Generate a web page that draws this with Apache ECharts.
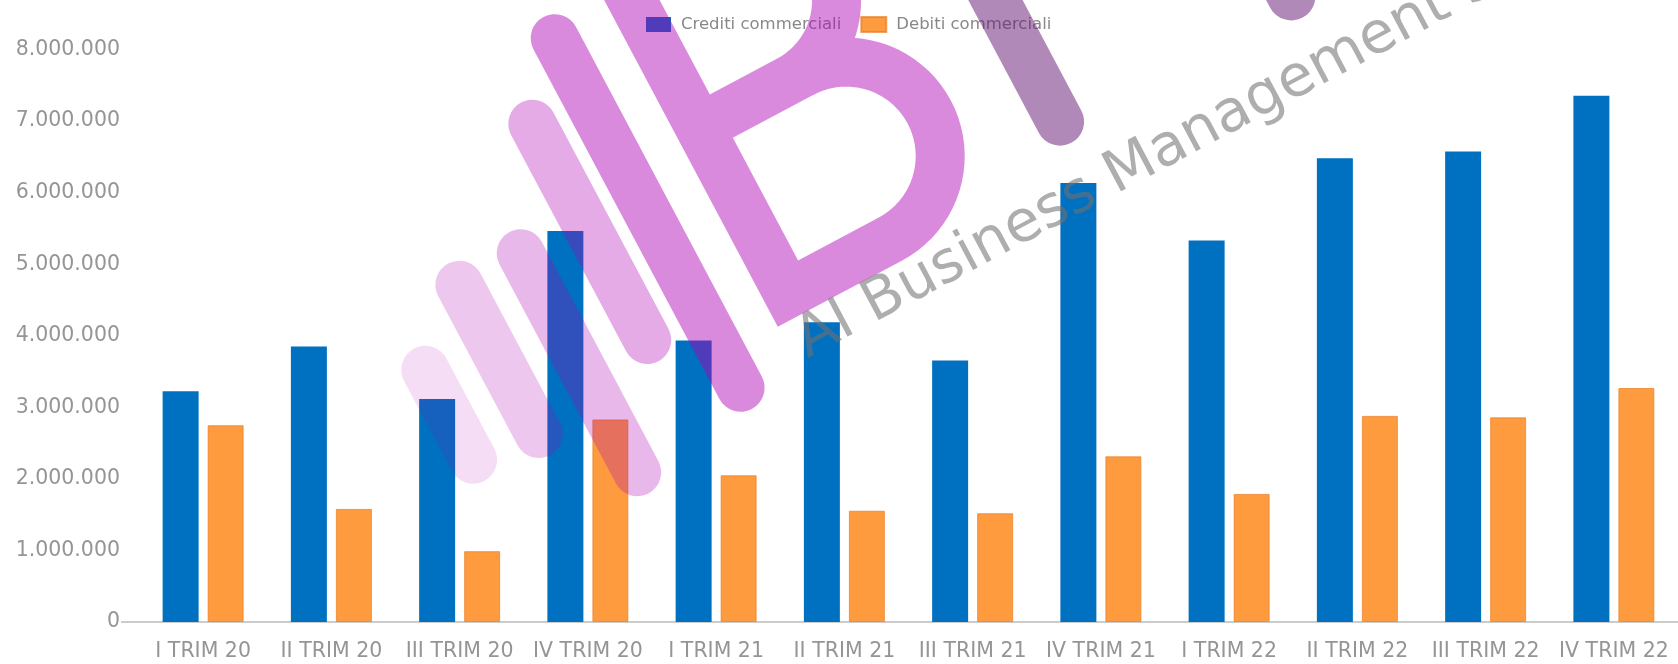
<!DOCTYPE html>
<html>
<head>
<meta charset="utf-8">
<title>Crediti e debiti commerciali</title>
<script src="https://cdn.jsdelivr.net/npm/echarts@6/dist/echarts.min.js"></script>
<style>
  html, body { margin: 0; padding: 0; background: #fff; }
  #container { width: 1678px; height: 664px; }
</style>
</head>
<body>
<div id="container"></div>
<script>
// dati
const trimestri = ['I TRIM 20', 'II TRIM 20', 'III TRIM 20', 'IV TRIM 20',
  'I TRIM 21', 'II TRIM 21', 'III TRIM 21', 'IV TRIM 21',
  'I TRIM 22', 'II TRIM 22', 'III TRIM 22', 'IV TRIM 22'];
const crediti = [3225000, 3850000, 3115000, 5465000, 3935000, 4190000,
  3655000, 6135000, 5330000, 6480000, 6575000, 7355000];
const debiti = [2750000, 1580000, 990000, 2830000, 2050000, 1555000,
  1520000, 2315000, 1790000, 2880000, 2860000, 3270000];
const nomiSerie = ['Crediti commerciali', 'Debiti commerciali'];

const FONT = '"DejaVu Sans", Verdana, sans-serif';

// formato italiano 8.000.000
const formatta = (v) => String(v).replace(/\B(?=(\d{3})+(?!\d))/g, '.');

/******************** watermark (logo BI + scritta) ********************/
const Z_WM = 100;
const magenta = (a) => 'rgba(174, 0, 179, ' + a + ')';
const viola = 'rgba(100, 20, 115, 0.5)';
const barra = (u, v1, v2, colore) => ({
  type: 'line',
  z: Z_WM,
  shape: { x1: u, y1: v1, x2: u, y2: v2 },
  style: { stroke: colore, lineWidth: 48, lineCap: 'round' },
  silent: true
});

// mezzo cerchio a destra (dal basso verso l'alto)
const pancia = (cx, cy, r) => {
  const punti = [];
  for (let i = 0; i <= 40; i++) {
    const a = Math.PI / 2 - i * Math.PI / 40;
    punti.push([cx + r * Math.cos(a), cy + r * Math.sin(a)]);
  }
  return punti;
};

const letteraB = [[125, -392], [24, -392], [24, -24], [140, -24]]
  .concat(pancia(140, -118, 94))
  .concat([[24, -212], [125, -212]])
  .concat(pancia(125, -302, 90));

const watermark = {
  type: 'group',
  x: 778,
  y: 326,
  rotation: 28 * Math.PI / 180,
  z: Z_WM,
  silent: true,
  children: [
    barra(-332, -127, -25, magenta(0.13)),
    barra(-262, -186, -17, magenta(0.22)),
    barra(-193, -185, 63, magenta(0.28)),
    barra(-122, -294, -49, magenta(0.33)),
    barra(-62, -359, 37, magenta(0.46)),
    {
      type: 'polyline',
      z: Z_WM,
      shape: { points: letteraB },
      style: { fill: null, stroke: magenta(0.46), lineWidth: 49, lineJoin: 'miter', lineCap: 'butt' },
      silent: true
    },
    barra(345, -460, -48, viola),
    barra(608, -460, -50, viola),
    {
      type: 'text',
      z: Z_WM,
      x: 11,
      y: 27,
      style: {
        text: 'AI Business Management Services',
        font: '58px ' + FONT,
        fill: 'rgba(115, 112, 112, 0.57)',
        verticalAlign: 'middle'
      },
      silent: true
    }
  ]
};

/******************** grafico ********************/
let dom = document.getElementById('container');
let myChart = echarts.init(dom, null, { renderer: 'canvas' });

let option = {
  animation: false,
  textStyle: { fontFamily: FONT },
  legend: {
    left: 641,
    top: 11,
    icon: 'rect',
    itemWidth: 25,
    itemHeight: 15,
    itemGap: 19,
    textStyle: { color: '#888', fontSize: 16.5, fontFamily: FONT, padding: [0, 0, 0, 5] },
    data: nomiSerie
  },
  grid: { left: 139, right: -8, top: 49.5, bottom: 42, containLabel: false },
  xAxis: {
    type: 'category',
    data: trimestri,
    axisLine: { lineStyle: { color: '#cccccc', width: 2 } },
    axisTick: { show: false },
    axisLabel: { color: '#959595', fontSize: 20.5, fontFamily: FONT, margin: 19, interval: 0 }
  },
  yAxis: {
    type: 'value',
    min: 0,
    max: 8000000,
    interval: 1000000,
    splitLine: { show: false },
    axisLine: { show: false },
    axisTick: { show: false },
    axisLabel: { color: '#959595', fontSize: 20.5, fontFamily: FONT, margin: 19, formatter: formatta }
  },
  series: [
    {
      name: nomiSerie[0],
      type: 'bar',
      data: crediti,
      barWidth: 36,
      barGap: '25%',
      itemStyle: { color: '#0070c0' }
    },
    {
      name: nomiSerie[1],
      type: 'bar',
      data: debiti,
      barWidth: 36,
      barGap: '25%',
      itemStyle: { color: '#fd9b3e', borderColor: 'rgba(232, 125, 35, 0.7)', borderWidth: 1 }
    }
  ],
  graphic: [
    {
      type: 'line',
      shape: { x1: 121, y1: 622, x2: 140, y2: 622 },
      style: { stroke: '#cccccc', lineWidth: 2 },
      silent: true
    },
    watermark
  ]
};

myChart.setOption(option);
window.addEventListener('resize', myChart.resize);
</script>
</body>
</html>
